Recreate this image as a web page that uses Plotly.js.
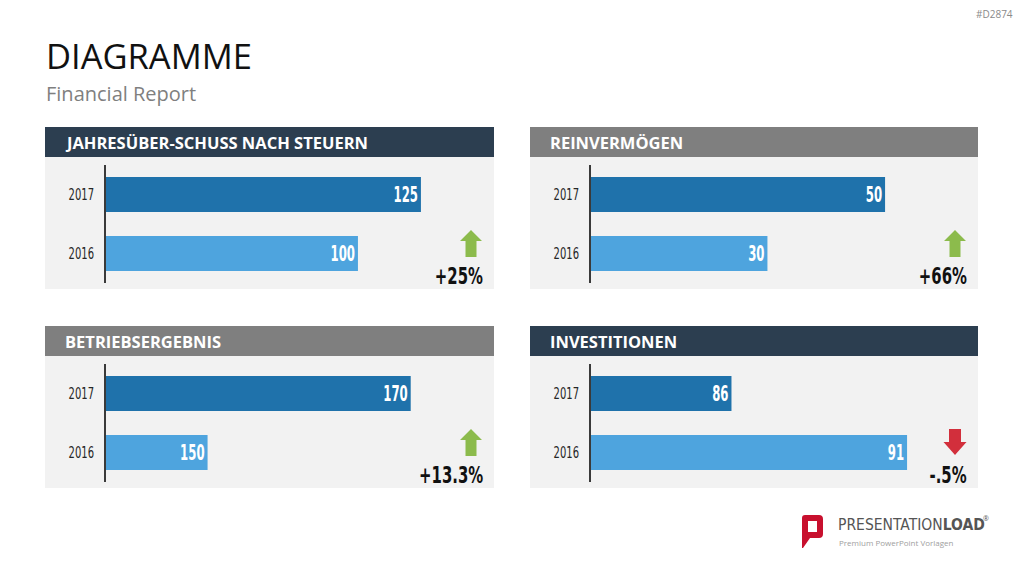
<!DOCTYPE html>
<html>
<head>
<meta charset="utf-8">
<script src="https://cdn.plot.ly/plotly-3.0.1.min.js"></script>
<style>
  html, body { margin: 0; padding: 0; background: #ffffff; }
  #chart { width: 1024px; height: 576px; }
</style>
</head>
<body>
<div id="chart"></div>
<script>
// ---- data ----
const years = ['2017', '2016'];
const panelTitles = ['JAHRESÜBER-SCHUSS NACH STEUERN', 'REINVERMÖGEN', 'BETRIEBSERGEBNIS', 'INVESTITIONEN'];
const jahresueberschuss = [125, 100];
const reinvermoegen = [50, 30];
const betriebsergebnis = [170, 150];
const investitionen = [86, 91];
const changeLabels = ['+25%', '+66%', '+13.3%', '-.5%'];

const series = [jahresueberschuss, reinvermoegen, betriebsergebnis, investitionen];

// ---- layout helpers (pixel boxes -> paper fractions) ----
const W = 1024, H = 576;
const px = x => x / W;
const py = y => 1 - y / H;

const NARROW = '"DejaVu Sans Condensed", "DejaVu Sans", sans-serif';
const SANS = '"Open Sans", "Noto Sans", sans-serif';

// panel frames: left, right, header top
const panels = [
  { l: 45,  r: 494, top: 127, head: '#2c3e50', range: [0, 154] },
  { l: 530, r: 978, top: 127, head: '#7f7f7f', range: [0, 65.8] },
  { l: 45,  r: 494, top: 326, head: '#7f7f7f', range: [140, 178.2] },
  { l: 530, r: 978, top: 326, head: '#2c3e50', range: [82, 93.02] }
];

const barColors = ['#1f72ab', '#4ea4de'];

const traces = [];
const shapes = [];
const annotations = [];
const layout = {
  width: W, height: H,
  margin: { l: 0, r: 0, t: 0, b: 0 },
  paper_bgcolor: '#ffffff',
  plot_bgcolor: 'rgba(0,0,0,0)',
  showlegend: false,
  bargap: 0.41,
  font: { family: SANS, color: '#333333' }
};

panels.forEach((p, i) => {
  const n = i === 0 ? '' : String(i + 1);
  const axisX = p.l + 61;               // vertical category axis position
  const plotTop = p.top + 38;
  const plotBottom = p.top + 156;

  // header band and grey body
  shapes.push({ type: 'rect', xref: 'paper', yref: 'paper', layer: 'below',
    x0: px(p.l), x1: px(p.r), y0: py(p.top), y1: py(p.top + 30),
    fillcolor: p.head, line: { width: 0 } });
  shapes.push({ type: 'rect', xref: 'paper', yref: 'paper', layer: 'below',
    x0: px(p.l), x1: px(p.r), y0: py(p.top + 30), y1: py(p.top + 162),
    fillcolor: '#f2f2f2', line: { width: 0 } });

  annotations.push({ xref: 'paper', yref: 'paper', x: px(p.l + 18), y: py(p.top + 15),
    xanchor: 'left', yanchor: 'middle', showarrow: false, text: panelTitles[i],
    font: { family: SANS, size: 16.5, color: '#ffffff', weight: 700 } });

  const vals = series[i];
  traces.push({
    type: 'bar', orientation: 'h',
    x: vals, y: years,
    xaxis: 'x' + n, yaxis: 'y' + n,
    marker: { color: barColors, line: { width: 0 } },
    texttemplate: '%{x}', textposition: 'inside', insidetextanchor: 'end',
    textfont: { family: NARROW, size: 21, color: '#ffffff', weight: 700, stretch: 'condensed' },
    constraintext: 'none',
    hoverinfo: 'x+y'
  });

  layout['xaxis' + n] = {
    domain: [px(axisX), px(p.r)], anchor: 'y' + n,
    range: p.range, visible: false, fixedrange: true
  };
  layout['yaxis' + n] = {
    domain: [py(plotBottom), py(plotTop)], anchor: 'x' + n,
    type: 'category', categoryorder: 'array', categoryarray: years,
    range: [1.5, -0.5],
    showline: true, linecolor: '#3a3a3a', linewidth: 2,
    showgrid: false, zeroline: false, ticks: '', ticklabelstandoff: 7,
    tickfont: { family: NARROW, size: 15, color: '#262626', stretch: 'condensed' },
    fixedrange: true
  };

  // trend arrow and change label
  const up = vals[0] >= vals[1];
  const cx = p.r - 23;
  let path;
  if (up) {
    const t = p.top + 103;
    path = `M ${px(cx)} ${py(t)} L ${px(cx + 11)} ${py(t + 11)} L ${px(cx + 5.5)} ${py(t + 11)} ` +
           `L ${px(cx + 5.5)} ${py(t + 27)} L ${px(cx - 5.5)} ${py(t + 27)} L ${px(cx - 5.5)} ${py(t + 11)} ` +
           `L ${px(cx - 11)} ${py(t + 11)} Z`;
  } else {
    const b = p.top + 129;
    path = `M ${px(cx)} ${py(b)} L ${px(cx + 11.5)} ${py(b - 13)} L ${px(cx + 6)} ${py(b - 13)} ` +
           `L ${px(cx + 6)} ${py(b - 26)} L ${px(cx - 6)} ${py(b - 26)} L ${px(cx - 6)} ${py(b - 13)} ` +
           `L ${px(cx - 11.5)} ${py(b - 13)} Z`;
  }
  shapes.push({ type: 'path', xref: 'paper', yref: 'paper', path: path,
    fillcolor: up ? '#8cbb4c' : '#d22f3c', line: { width: 0 } });

  annotations.push({ xref: 'paper', yref: 'paper', x: px(p.r - 9), y: py(p.top + 149),
    xanchor: 'right', yanchor: 'middle', showarrow: false, text: changeLabels[i],
    font: { family: NARROW, size: 23, color: '#111111', weight: 700, stretch: 'condensed' } });
});

// page title block
annotations.push({ xref: 'paper', yref: 'paper', x: px(44), y: py(56), xanchor: 'left', yanchor: 'middle',
  showarrow: false, text: 'DIAGRAMME', font: { family: SANS, size: 34.5, color: '#111111' } });
annotations.push({ xref: 'paper', yref: 'paper', x: px(44), y: py(93), xanchor: 'left', yanchor: 'middle',
  showarrow: false, text: 'Financial Report', font: { family: SANS, size: 20, color: '#7f7f7f' } });
annotations.push({ xref: 'paper', yref: 'paper', x: px(1015), y: py(14), xanchor: 'right', yanchor: 'middle',
  showarrow: false, text: '#D2874', font: { family: SANS, size: 10, color: '#8a8a8a' } });

// brand mark
const logoPath = `M ${px(805)} ${py(515)} L ${px(819)} ${py(515)} Q ${px(823)} ${py(515)} ${px(823)} ${py(519)} ` +
  `L ${px(823)} ${py(534)} Q ${px(823)} ${py(538)} ${px(819)} ${py(538)} L ${px(810)} ${py(538)} ` +
  `L ${px(803)} ${py(548)} L ${px(802)} ${py(548)} L ${px(802)} ${py(518)} Q ${px(802)} ${py(515)} ${px(805)} ${py(515)} Z ` +
  `M ${px(808)} ${py(521)} L ${px(817)} ${py(521)} L ${px(817)} ${py(532)} L ${px(808)} ${py(532)} Z`;
shapes.push({ type: 'path', xref: 'paper', yref: 'paper', path: logoPath, fillrule: 'evenodd',
  fillcolor: '#c8102e', line: { width: 0 } });
annotations.push({ xref: 'paper', yref: 'paper', x: px(836), y: py(525), xanchor: 'left', yanchor: 'middle',
  showarrow: false, text: 'PRESENTATION<b>LOAD</b>',
  font: { family: NARROW, size: 15.5, color: '#555555', stretch: 'condensed' } });
annotations.push({ xref: 'paper', yref: 'paper', x: px(981), y: py(518), xanchor: 'left', yanchor: 'middle',
  showarrow: false, text: '®', font: { family: SANS, size: 7, color: '#555555' } });
annotations.push({ xref: 'paper', yref: 'paper', x: px(837), y: py(542), xanchor: 'left', yanchor: 'middle',
  showarrow: false, text: 'Premium PowerPoint Vorlagen',
  font: { family: SANS, size: 8, color: '#a0a0a0' } });

layout.shapes = shapes;
layout.annotations = annotations;

// Squeeze a text element horizontally, keeping one edge fixed.
function condense(el, factor, keep) {
  const before = el.getBBox();
  const len = el.getComputedTextLength();
  if (!len) return;
  el.setAttribute('lengthAdjust', 'spacingAndGlyphs');
  el.setAttribute('textLength', (len * factor).toFixed(2));
  const after = el.getBBox();
  const dx = keep === 'left'
    ? before.x - after.x
    : (before.x + before.width) - (after.x + after.width);
  const x0 = parseFloat(el.getAttribute('x') || '0');
  el.setAttribute('x', (x0 + dx).toFixed(2));
}

const gd = document.getElementById('chart');
Plotly.newPlot(gd, traces, layout, { staticPlot: true, displayModeBar: false }).then(() => {
  gd.querySelectorAll('text.bartext').forEach(t => condense(t, 0.62, 'right'));
  gd.querySelectorAll('g.yaxislayer-above text').forEach(t => condense(t, 0.74, 'right'));
  gd.querySelectorAll('text.annotation-text').forEach(t => {
    if (changeLabels.includes(t.textContent)) condense(t, 0.72, 'right');
  });
});
</script>
</body>
</html>
